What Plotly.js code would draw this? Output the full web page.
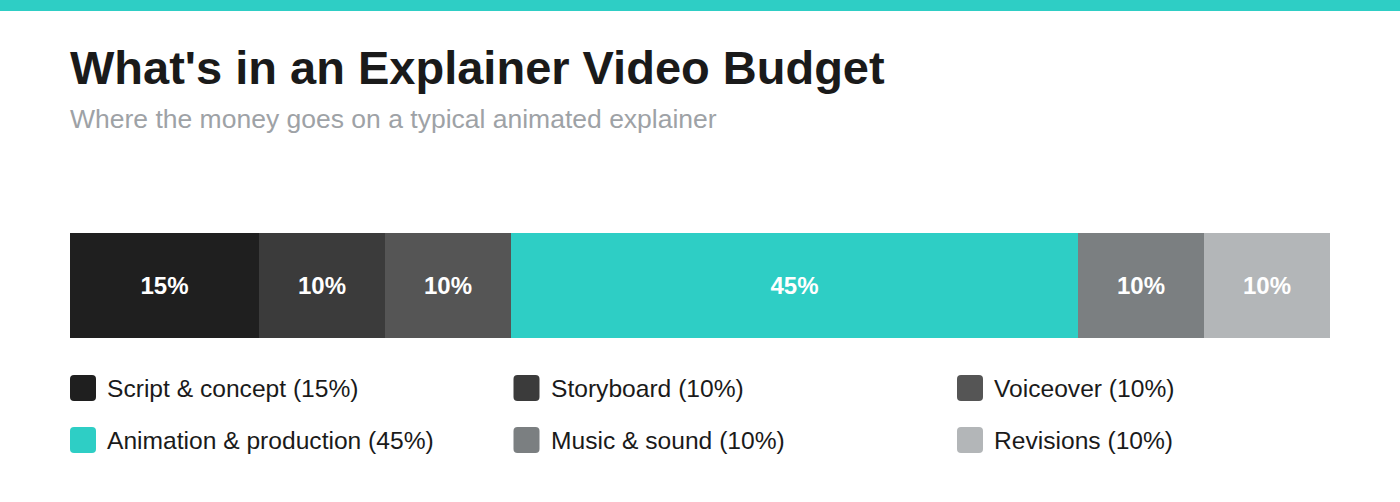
<!DOCTYPE html>
<html>
<head>
<meta charset="utf-8">
<script src="https://cdn.plot.ly/plotly-3.0.1.min.js"></script>
<style>
  html, body { margin: 0; padding: 0; background: #ffffff; }
  #chart { width: 1400px; height: 502px; }
</style>
</head>
<body>
<div id="chart"></div>
<script>
// budget split
const categories = ['Script & concept', 'Storyboard', 'Voiceover', 'Animation & production', 'Music & sound', 'Revisions'];
const shares = [15, 10, 10, 45, 10, 10];
const colors = ['#1f1f1f', '#3b3b3b', '#555555', '#2ecec5', '#7b7f81', '#b3b6b8'];

const titleText = "What's in an Explainer Video Budget";
const subtitleText = 'Where the money goes on a typical animated explainer';

// page geometry (px) -> paper coords of the bar's plot area
const W = 1400, H = 502;
const M = { l: 70, r: 70, t: 233, b: 164 };
const plotW = W - M.l - M.r, plotH = H - M.t - M.b;
const px = (x) => (x - M.l) / plotW;
const py = (y) => (H - M.b - y) / plotH;

const font = '"Liberation Sans", Arial, Helvetica, sans-serif';

const data = categories.map((name, i) => ({
    type: 'bar',
    orientation: 'h',
    name: name,
    x: [shares[i]],
    y: ['budget'],
    marker: { color: colors[i], line: { width: 0 } },
    text: [shares[i] + '%'],
    texttemplate: '<b>%{text}</b>',
    textposition: 'inside',
    insidetextanchor: 'middle',
    textfont: { family: font, size: 24, color: '#ffffff' },
    hovertemplate: name + ': %{x}%<extra></extra>',
    showlegend: false,
}));

// hand-made legend: 3 columns, 2 rows, rounded swatches
const colX = [70, 513.5, 957];
const rowY = [388, 440];
const sw = 26, rad = 4;
// rounded rect drawn in page px, converted to paper coords
const roundRect = (x, y, w, h, r) => {
    const P = (a, b) => `${px(a)},${py(b)}`;
    return `M${P(x + r, y)} L${P(x + w - r, y)} Q${P(x + w, y)} ${P(x + w, y + r)} L${P(x + w, y + h - r)} ` +
        `Q${P(x + w, y + h)} ${P(x + w - r, y + h)} L${P(x + r, y + h)} Q${P(x, y + h)} ${P(x, y + h - r)} ` +
        `L${P(x, y + r)} Q${P(x, y)} ${P(x + r, y)} Z`;
};

const shapes = [{
    type: 'rect', xref: 'paper', yref: 'paper', layer: 'below',
    x0: px(0), x1: px(W), y0: py(11), y1: py(0),
    fillcolor: '#2ecec5', line: { width: 0 },
}];
const annotations = [
    {
        text: '<b>' + titleText + '</b>', xref: 'paper', yref: 'paper',
        x: px(68), y: py(68), xanchor: 'left', yanchor: 'middle', showarrow: false,
        font: { family: font, size: 47, color: '#1a1a1a' },
    },
    {
        text: subtitleText, xref: 'paper', yref: 'paper',
        x: px(68), y: py(119), xanchor: 'left', yanchor: 'middle', showarrow: false,
        font: { family: font, size: 26.5, color: '#9ea2a6' },
    },
];

categories.forEach((name, i) => {
    const cx = colX[i % 3], cy = rowY[Math.floor(i / 3)];
    shapes.push({
        type: 'path', xref: 'paper', yref: 'paper',
        path: roundRect(cx, cy - sw / 2, sw, sw, rad),
        fillcolor: colors[i], line: { width: 0 },
    });
    annotations.push({
        text: name + ' (' + shares[i] + '%)', xref: 'paper', yref: 'paper',
        x: px(cx + 35), y: py(cy), xanchor: 'left', yanchor: 'middle', showarrow: false,
        font: { family: font, size: 24.6, color: '#1a1a1a' },
    });
});

const layout = {
    width: W, height: H,
    margin: M,
    paper_bgcolor: '#ffffff',
    plot_bgcolor: '#ffffff',
    barmode: 'stack',
    bargap: 0,
    xaxis: { range: [0, 100], visible: false, fixedrange: true },
    yaxis: { visible: false, fixedrange: true },
    shapes: shapes,
    annotations: annotations,
    uniformtext: { mode: 'show', minsize: 24 },
};

Plotly.newPlot('chart', data, layout, { displayModeBar: false, staticPlot: true });
</script>
</body>
</html>
